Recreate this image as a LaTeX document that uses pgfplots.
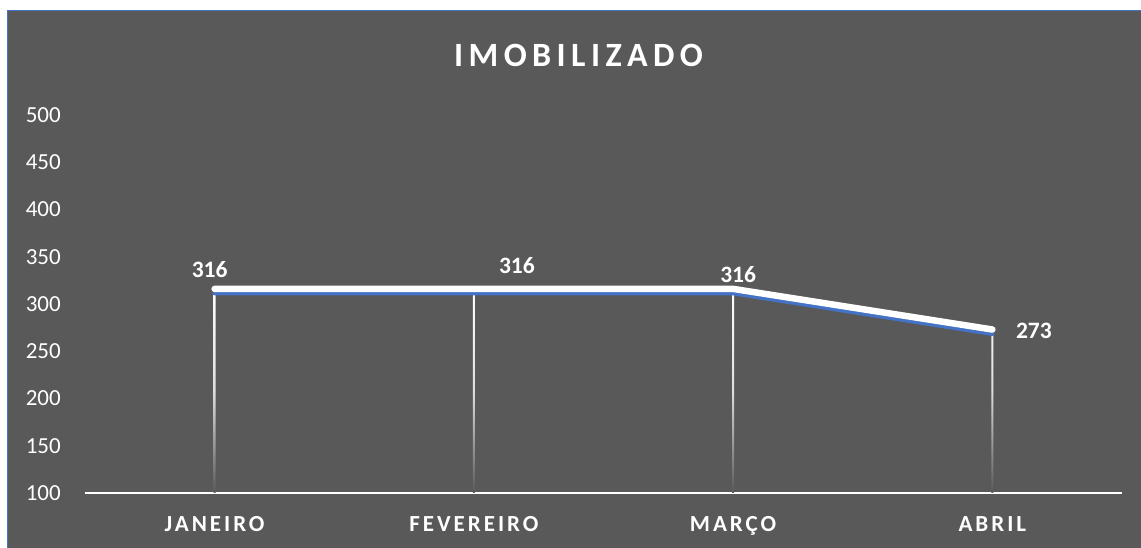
\documentclass[border=0pt]{standalone}
\usepackage{fontspec}
\setmainfont{Carlito}
\usepackage{pgfplots}
\usepackage{pgfplotstable}
\pgfplotsset{compat=1.18}
\definecolor{bg}{HTML}{595959}
\definecolor{xblue}{HTML}{4472C4}
\tikzset{lbl/.style={text=white, font=\fontsize{23.5}{28}\selectfont\bfseries, inner sep=0pt}}

\pgfplotstableread{
x y
0 316
1 316
2 316
3 273
}\datatable

\begin{document}
\begin{tikzpicture}
\useasboundingbox (0pt,0pt) rectangle (1141pt,548pt);
\fill[white] (0pt,0pt) rectangle (1141pt,548pt);
\fill[bg] (7.5pt,0pt) rectangle (1141pt,537.5pt);
\draw[xblue, line width=1.5pt] (7.5pt,0pt) -- (7.5pt,537.5pt) -- (1141pt,537.5pt);
\node[anchor=base, text=white, inner sep=0pt, font=\fontsize{34}{40}\selectfont\bfseries\addfontfeature{LetterSpace=16}] at (578.5pt,481pt) {IMOBILIZADO};
\begin{axis}[
  at={(85pt,55pt)}, anchor=south west,
  scale only axis, width=1037pt, height=378pt,
  xmin=-0.5, xmax=3.5, ymin=100, ymax=500,
  ytick={100,150,...,500},
  xtick={0,1,2,3},
  xticklabels={JANEIRO,FEVEREIRO,MARÇO,ABRIL},
  axis x line*=bottom, axis y line*=left,
  x axis line style={white, line width=2.5pt, -},
  y axis line style={draw=none},
  major tick length=0pt,
  /pgf/number format/assume math mode=true,
  yticklabel style={font=\fontsize{23}{27}\selectfont, text=white, anchor=east, inner sep=0pt, xshift=-24pt},
  xticklabel style={font=\fontsize{23}{27}\selectfont\bfseries\addfontfeature{LetterSpace=13}, text=white, anchor=north, inner sep=0pt, yshift=-23pt},
]
\addplot[ybar, bar width=2pt, draw=none, top color=white, bottom color=bg, middle color=white!80!bg] table[x=x,y=y]{\datatable};
\addplot[xblue, line width=4pt, line cap=round, line join=round, yshift=-4.5pt, mark=none] table[x=x,y=y]{\datatable};
\addplot[white, line width=6.5pt, line cap=round, line join=round, mark=none] table[x=x,y=y]{\datatable};
\node[lbl, xshift=-5pt, yshift=19pt] at (axis cs:0,316) {316};
\node[lbl, xshift=43pt, yshift=23pt] at (axis cs:1,316) {316};
\node[lbl, xshift=5pt, yshift=14.5pt] at (axis cs:2,316) {316};
\node[lbl, xshift=41.5pt, yshift=-1pt] at (axis cs:3,273) {273};
\end{axis}
\end{tikzpicture}
\end{document}
